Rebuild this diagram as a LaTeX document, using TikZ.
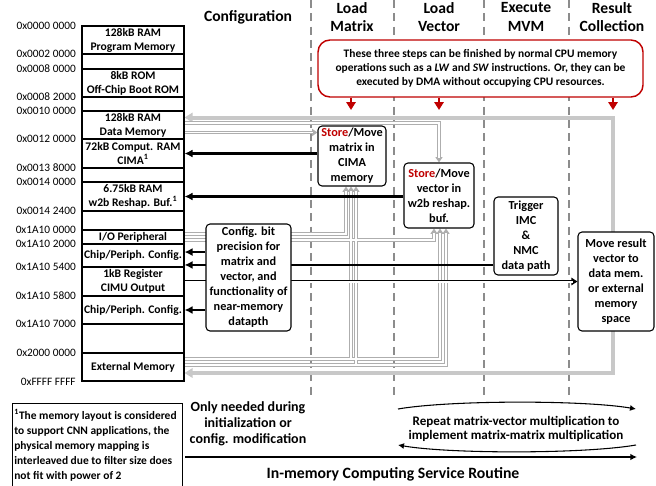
\documentclass[tikz,border=0pt]{standalone}
\usepackage{fontspec}
\setmainfont{Carlito}
\usetikzlibrary{arrows.meta,calc}
\pgfdeclarelayer{bg}
\pgfsetlayers{bg,main}

\definecolor{dred}{HTML}{C00000}
\definecolor{lgray}{HTML}{C8C8C8}
\definecolor{hgray}{HTML}{AEAEAE}
\definecolor{dashgray}{HTML}{8C8C8C}

\newcommand\fMem{\fontsize{8.7}{10.5}\selectfont\bfseries}
\newcommand\fAddr{\fontsize{8.5}{10}\selectfont}
\newcommand\fHead{\fontsize{11.7}{14}\selectfont\bfseries}
\newcommand\fBox{\fontsize{9.2}{11.25}\selectfont\bfseries}
\newcommand\fNote{\fontsize{8.6}{10.4}\selectfont\bfseries}
\newcommand\fFoot{\fontsize{8.6}{11.25}\selectfont\bfseries}
\newcommand\fOnly{\fontsize{10.5}{12}\selectfont\bfseries}
\newcommand\fRepeat{\fontsize{9.8}{10.4}\selectfont\bfseries}
\newcommand\fRoutine{\fontsize{11.8}{14}\selectfont\bfseries}
\newcommand\storemove{\textcolor{dred}{Store}/Move}

\begin{document}
\begin{tikzpicture}[x=0.75pt,y=-0.75pt,
  mem/.style={draw, line width=0.8pt, minimum width=76.5pt, inner sep=0pt, align=center, font=\fMem},
  addr/.style={anchor=east, inner sep=0pt, font=\fAddr},
  head/.style={align=center, font=\fHead, inner sep=0pt},
  stepbox/.style={draw, fill=white, rounded corners=3pt, line width=0.8pt, align=center, font=\fBox, inner sep=0pt},
  notebox/.style={draw=dred, fill=white, rounded corners=9pt, line width=1.1pt, align=center, font=\fNote, inner sep=0pt, minimum width=243.75pt, minimum height=42.75pt},
  phase/.style={draw=dashgray, line width=0.8pt, dash pattern=on 6pt off 4pt},
  redarr/.style={draw=dred, line width=1.5pt, -{Triangle[length=6pt,width=7pt]}},
  loopline/.style={draw=lgray, line width=3pt, {Triangle[length=6pt,width=7pt]}-{Triangle[length=6pt,width=7pt]}},
  % hollow light-gray bus: gray outline with white core
  holout/.style={draw=hgray, line width=2.6pt, -{Triangle[length=4pt,width=5.2pt]}},
  holin/.style={draw=white, line width=1.1pt, shorten >=3pt},
  blk/.style={line width=1.6pt, -{Latex[length=6pt,width=6pt]}},
  % hollow black bus
  dbl/.style={draw=white, line width=1.5pt, shorten >=3pt,
    preaction={draw=black, line width=2.8pt, shorten >=0pt, -{Triangle[length=4.5pt,width=5.5pt]}}},
  flow/.style={line width=1.2pt, -{Latex[length=5pt,width=5pt]}},
  cyc/.style={line width=0.8pt, -{Latex[length=4.5pt,width=4.5pt]}}
]
\useasboundingbox (0,0) rectangle (656,485);
\begin{pgfonlayer}{bg}
  \fill[white] (0,0) rectangle (656,485);
\end{pgfonlayer}

% ---------- memory map ----------
\node[mem, minimum height=21pt]    (prog) at (133,40)    {128kB RAM\\Program Memory};
\node[mem, minimum height=11.25pt] (gap1) at (133,61.5)  {};
\node[mem, minimum height=21pt]    (rom)  at (133,83)    {8kB ROM\\Off-Chip Boot ROM};
\node[mem, minimum height=10.5pt]  (gap2) at (133,104)   {};
\node[mem, minimum height=21pt]    (dmem) at (133,125)   {128kB RAM\\Data Memory};
\node[mem, minimum height=21.75pt] (cima) at (133,153.5) {72kB Comput. RAM\\CIMA\textsuperscript{1}};
\node[mem, minimum height=10.5pt]  (gap3) at (133,175)   {};
\node[mem, minimum height=21.75pt] (w2b)  at (133,196.5) {6.75kB RAM\\w2b Reshap. Buf.\textsuperscript{1}};
\node[mem, minimum height=14.25pt] (gap4) at (133,220.5) {};
\node[mem, minimum height=10.5pt]  (io)   at (133,237)   {I/O Peripheral};
\node[mem, minimum height=17.25pt] (cfgA) at (133,255.5) {Chip/Periph. Config.};
\node[mem, minimum height=21.75pt] (cimu) at (133,281.5) {1kB Register\\CIMU Output};
\node[mem, minimum height=21pt]    (cfgB) at (133,310)   {Chip/Periph. Config.};
\node[mem, minimum height=21.75pt] (gap5) at (133,338.5) {};
\node[mem, minimum height=21pt]    (ext)  at (133,367)   {External Memory};

% ---------- addresses ----------
\node[addr] (ad01) at (76,26)  {0x0000 0000};
\node[addr] (ad02) at (76,54)  {0x0002 0000};
\node[addr] (ad03) at (76,69)  {0x0008 0000};
\node[addr] (ad04) at (76,97)  {0x0008 2000};
\node[addr] (ad05) at (76,111) {0x0010 0000};
\node[addr] (ad06) at (76,139) {0x0012 0000};
\node[addr] (ad07) at (76,168) {0x0013 8000};
\node[addr] (ad08) at (76,182) {0x0014 0000};
\node[addr] (ad09) at (76,211) {0x0014 2400};
\node[addr] (ad10) at (76,230) {0x1A10 0000};
\node[addr] (ad11) at (76,244) {0x1A10 2000};
\node[addr] (ad12) at (76,267) {0x1A10 5400};
\node[addr] (ad13) at (76,296) {0x1A10 5800};
\node[addr] (ad14) at (76,324) {0x1A10 7000};
\node[addr] (ad15) at (76,353) {0x2000 0000};
\node[addr] (ad16) at (76,382) {0xFFFF FFFF};

% ---------- phase headings ----------
\node[head] (hcfg) at (248,17) {Configuration};
\node[head] (hlm)  at (352,17) {Load\\Matrix};
\node[head] (hlv)  at (439,17) {Load\\Vector};
\node[head] (hex)  at (526,17) {Execute\\MVM};
\node[head] (hrc)  at (612,17) {Result\\Collection};

% ---------- step boxes ----------
\node[stepbox, minimum width=51pt, minimum height=45pt]       (matbox) at (352,156)    {\storemove\\matrix in\\CIMA\\memory};
\node[stepbox, minimum width=52.5pt, minimum height=48.75pt]  (vecbox) at (439,195.5)  {\storemove\\vector in\\w2b reshap.\\buf.};
\node[stepbox, minimum width=48pt, minimum height=58.5pt]     (trig)   at (526,236)    {Trigger\\IMC\\\&\\NMC\\data path};
\node[stepbox, minimum width=57pt, minimum height=74.25pt]    (res)    at (616,281.5)  {Move result\\vector to\\data mem.\\or external\\memory\\space};
\node[stepbox, minimum width=63.75pt, minimum height=80.25pt] (cfg)    at (248.5,277.5) {Config. bit\\precision for\\matrix and\\vector, and\\functionality of\\near-memory\\datapth};

\node[notebox] (note) at (480.5,68.5) {These three steps can be finished by normal CPU memory\\
  operations such as a \textit{LW} and \textit{SW} instructions. Or, they can be\\
  executed by DMA without occupying CPU resources.};

% ---------- corner points of the hollow buses ----------
\coordinate (dA) at ([yshift=1.5pt]dmem.east);
\coordinate (dB) at ([yshift=-5.6pt]dmem.east);
\coordinate (iA) at ([yshift=2.25pt]io.east);
\coordinate (iB) at ([yshift=-2.25pt]io.east);
\coordinate (eA) at ([yshift=6pt]ext.east);
\coordinate (eB) at ([yshift=1.5pt]ext.east);
\coordinate (mS1) at ([xshift=-4.5pt]matbox.south);
\coordinate (mS2) at ([xshift=-0.75pt]matbox.south);
\coordinate (mS3) at ([xshift=3pt]matbox.south);
\coordinate (vS1) at ([xshift=-3.75pt]vecbox.south);
\coordinate (vS2) at ([xshift=0.75pt]vecbox.south);
\coordinate (vS3) at ([xshift=5.25pt]vecbox.south);
\coordinate (loopBR) at (613,373);

\begin{pgfonlayer}{bg}
  \foreach \xx in {311,394,484,569} \draw[phase] (\xx,0) -- (\xx,397);
  \draw[loopline] ([yshift=5.6pt]dmem.east) -| (loopBR) -- ([yshift=-4.5pt]ext.east);
  % hollow buses: outlines first, then white cores
  \foreach \st in {holout,holin}{
    \draw[\st] (dA) -- (dA -| vecbox.north) -- (vecbox.north);
    \draw[\st] (dB) -- (dB -| matbox.west);
    \draw[\st] (iA) -- (iA -| mS1) -- (mS1);
    \draw[\st] (iB) -- (iB -| vS1) -- (vS1);
    \draw[\st] (eA) -- (eA -| mS2) -- (mS2);
    \draw[\st] (eA) -- (eA -| vS2) -- (vS2);
    \draw[\st] (eB) -- (eB -| mS3) -- (mS3);
    \draw[\st] (eB) -- (eB -| vS3) -- (vS3);
  }
  % trigger and result paths
  \draw[blk] ([yshift=-7.1pt]cfgA.east -| trig.west) -- ([yshift=-7.1pt]cfgA.east);
  \draw[dbl] (cimu.east) -- (cimu.east -| res.west);
\end{pgfonlayer}

% ---------- write arrows into memory ----------
\draw[blk] (matbox.west |- cima.east) -- (cima.east);
\draw[blk] (vecbox.west |- w2b.east) -- (w2b.east);
\draw[blk] ([yshift=2.6pt]cfgA.east -| cfg.west) -- ([yshift=2.6pt]cfgA.east);
\draw[blk] (cfg.west |- cfgB.east) -- (cfgB.east);

% ---------- red pointers from the note ----------
\coordinate (r1) at (351,110);
\coordinate (r2) at (439,110);
\coordinate (r3) at (613,110);
\draw[redarr] (note.south -| r1) -- (r1);
\draw[redarr] (note.south -| r2) -- (r2);
\draw[redarr] (note.south -| r3) -- (r3);

% ---------- bottom part ----------
\node[draw, line width=0.8pt, anchor=north west, minimum width=127.5pt, minimum height=70pt, inner sep=0pt] (fnbox) at (12,403) {};
\node[anchor=north west, align=left, font=\fFoot, inner sep=0pt] (fntext) at (14,409)
  {\textsuperscript{1}The memory layout is considered\\
   to support CNN applications, the\\
   physical memory mapping is\\
   interleaved due to filter size does\\
   not fit with power of 2};

\node[align=center, font=\fOnly, inner sep=0pt] (only) at (248,424) {Only needed during\\initialization or\\config. modification};

\node[align=center, font=\fRepeat, inner sep=0pt] (rep) at (516,429) {Repeat matrix-vector multiplication to\\implement matrix-matrix multiplication};
\coordinate (rpA) at (398,409);
\coordinate (rpB) at (636,409);
\coordinate (rpC) at (636,445);
\coordinate (rpD) at (398,445);
\draw[cyc] (rpA) .. controls (450,400) and (584,400) .. (rpB);
\draw[cyc] (rpC) .. controls (584,454) and (450,454) .. (rpD);

\coordinate (srA) at (185,457);
\coordinate (srB) at (637,457);
\draw[flow] (srA) -- (srB);
\node[font=\fRoutine, inner sep=0pt] (routine) at (393,474) {In-memory Computing Service Routine};
\end{tikzpicture}
\end{document}
